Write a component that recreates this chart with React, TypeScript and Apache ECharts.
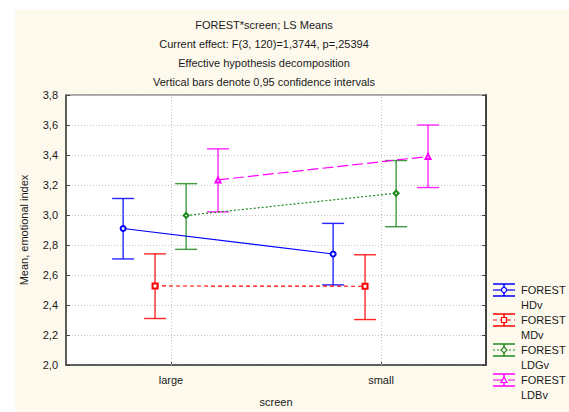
import React, { useEffect, useRef } from 'react';
import * as echarts from 'echarts';

const categories = ['large', 'small'];
const titleLines = [
  'FOREST*screen; LS Means',
  'Current effect: F(3, 120)=1,3744, p=,25394',
  'Effective hypothesis decomposition',
  'Vertical bars denote 0,95 confidence intervals',
];
const seriesNames = ['FOREST\nHDv', 'FOREST\nMDv', 'FOREST\nLDGv', 'FOREST\nLDBv'];

const hdvMean = [2.91, 2.74];
const hdvLow = [2.707, 2.534];
const hdvHigh = [3.11, 2.944];

const mdvMean = [2.527, 2.525];
const mdvLow = [2.31, 2.303];
const mdvHigh = [2.741, 2.735];

const ldgvMean = [2.997, 3.145];
const ldgvLow = [2.771, 2.922];
const ldgvHigh = [3.209, 3.363];

const ldbvMean = [3.234, 3.39];
const ldbvLow = [3.021, 3.183];
const ldbvHigh = [3.441, 3.6];

const yMin = 2.0;
const yMax = 3.8;
const yStep = 0.2;

// layout / style
const offsets = [-0.228, -0.076, 0.072, 0.224];
const colors = ['#0000ff', '#ff0000', '#1f8a1f', '#ff00ff'];
const dashes: any[] = ['solid', [4, 3], [2, 2], [11, 4]];
const symbols = ['emptyCircle', 'emptyRect', 'emptyDiamond', 'emptyTriangle'];
const FONT = '"Liberation Sans", Arial, sans-serif';

const groups = [
  { mean: hdvMean, low: hdvLow, high: hdvHigh },
  { mean: mdvMean, low: mdvLow, high: mdvHigh },
  { mean: ldgvMean, low: ldgvLow, high: ldgvHigh },
  { mean: ldbvMean, low: ldbvLow, high: ldbvHigh },
];

function markerGraphic(i: number, cx: number, cy: number) {
  const style = { fill: '#fff', stroke: colors[i], lineWidth: 1.2 };
  if (i === 0) return { type: 'circle', shape: { cx, cy, r: 2.5 }, style, z: 20 };
  if (i === 1) return { type: 'rect', shape: { x: cx - 2.5, y: cy - 2.5, width: 5, height: 5 }, style, z: 20 };
  if (i === 2)
    return {
      type: 'polygon',
      shape: { points: [[cx, cy - 3], [cx + 3, cy], [cx, cy + 3], [cx - 3, cy]] },
      style,
      z: 20,
    };
  return {
    type: 'polygon',
    shape: { points: [[cx, cy - 3], [cx + 3, cy + 2.5], [cx - 3, cy + 2.5]] },
    style,
    z: 20,
  };
}

export default function App() {
  const ref = useRef<HTMLDivElement>(null);

  useEffect(() => {
    if (!ref.current) return;
    const chart = echarts.init(ref.current, undefined, { renderer: 'svg' });

    const series: any[] = [];
    groups.forEach((g, i) => {
      const line: any = {
        type: 'line',
        name: seriesNames[i],
        xAxisIndex: 1,
        yAxisIndex: 0,
        data: categories.map((_, c) => [c + offsets[i], g.mean[c]]),
        symbol: symbols[i],
        symbolSize: 5,
        itemStyle: { color: colors[i], borderColor: colors[i], borderWidth: 1.2 },
        lineStyle: { color: colors[i], width: 1.2, type: dashes[i] },
        z: 4,
      };
      if (i === 0) {
        line.markLine = {
          silent: true,
          symbol: ['none', 'none'],
          label: { show: false },
          lineStyle: { color: '#c4c4c4', type: [1, 2], width: 1 },
          data: categories.map((_, c) => ({ xAxis: c })),
          z: 1,
        };
      }
      series.push(line);
      series.push({
        type: 'custom',
        xAxisIndex: 1,
        yAxisIndex: 0,
        z: 3,
        data: categories.map((_, c) => [c + offsets[i], g.low[c], g.high[c]]),
        encode: { x: 0, y: [1, 2] },
        renderItem: (params: any, api: any) => {
          const x = api.value(0);
          const lo = api.coord([x, api.value(1)]);
          const hi = api.coord([x, api.value(2)]);
          const hw = 11;
          const st = { stroke: colors[i], lineWidth: 1.4, opacity: 0.85 };
          return {
            type: 'group',
            children: [
              { type: 'line', shape: { x1: lo[0], y1: lo[1], x2: hi[0], y2: hi[1] }, style: st },
              { type: 'line', shape: { x1: lo[0] - hw, y1: lo[1], x2: lo[0] + hw, y2: lo[1] }, style: st },
              { type: 'line', shape: { x1: hi[0] - hw, y1: hi[1], x2: hi[0] + hw, y2: hi[1] }, style: st },
            ],
          };
        },
      });
    });

    const graphics: any[] = [];
    titleLines.forEach((t, k) => {
      graphics.push({
        type: 'text',
        x: 264,
        y: 25 + k * 19,
        style: {
          text: t,
          font: `11px ${FONT}`,
          fill: '#1a1a1a',
          align: 'center',
          textAlign: 'center',
          verticalAlign: 'middle',
          textVerticalAlign: 'middle',
        },
      });
    });
    groups.forEach((_, i) => {
      const cy = 290 + i * 30;
      const x0 = 493;
      const x1 = 515;
      const cx = 504;
      const st = { stroke: colors[i], lineWidth: 1.5 };
      graphics.push({ type: 'line', shape: { x1: x0, y1: cy - 6, x2: x1, y2: cy - 6 }, style: st });
      graphics.push({ type: 'line', shape: { x1: x0, y1: cy + 6, x2: x1, y2: cy + 6 }, style: st });
      graphics.push({ type: 'line', shape: { x1: cx, y1: cy - 6, x2: cx, y2: cy + 6 }, style: st });
      graphics.push({
        type: 'line',
        shape: { x1: x0, y1: cy, x2: x1, y2: cy },
        style: { stroke: colors[i], lineWidth: 1.2, lineDash: dashes[i] === 'solid' ? null : dashes[i] },
      });
      graphics.push(markerGraphic(i, cx, cy));
      const [l1, l2] = seriesNames[i].split('\n');
      graphics.push({
        type: 'text',
        x: 521,
        y: cy,
        style: { text: l1, font: `11px ${FONT}`, fill: '#1a1a1a', verticalAlign: 'middle', textVerticalAlign: 'middle' },
      });
      graphics.push({
        type: 'text',
        x: 521,
        y: cy + 15,
        style: { text: l2, font: `11px ${FONT}`, fill: '#1a1a1a', verticalAlign: 'middle', textVerticalAlign: 'middle' },
      });
    });

    const fmt = (v: number) => v.toFixed(1).replace('.', ',');

    chart.setOption({
      animation: false,
      textStyle: { fontFamily: FONT },
      grid: {
        left: 66,
        top: 95,
        width: 420,
        height: 281,
        show: true,
        backgroundColor: '#ffffff',
        borderColor: '#555',
        borderWidth: 1,
      },
      xAxis: [
        {
          type: 'category',
          data: categories,
          boundaryGap: true,
          position: 'bottom',
          axisLine: { show: true, onZero: false, lineStyle: { color: '#444', width: 1.5 } },
          axisTick: { show: true, inside: true, alignWithLabel: true, length: 4, lineStyle: { color: '#444' } },
          axisLabel: { color: '#1a1a1a', fontSize: 11, margin: 9 },
          splitLine: { show: false },
          name: 'screen',
          nameLocation: 'middle',
          nameGap: 31,
          nameTextStyle: { color: '#1a1a1a', fontSize: 11 },
        },
        {
          type: 'value',
          min: -0.5,
          max: 1.5,
          show: false,
          position: 'top',
          axisLine: { show: false, onZero: false },
          splitLine: { show: false },
        },
      ],
      yAxis: [
        {
          type: 'value',
          min: yMin,
          max: yMax,
          interval: yStep,
          position: 'left',
          axisLine: { show: true, onZero: false, lineStyle: { color: '#444', width: 1.5 } },
          axisTick: { show: true, inside: true, length: 4, lineStyle: { color: '#444' } },
          axisLabel: { color: '#1a1a1a', fontSize: 11, margin: 8, formatter: fmt },
          splitLine: { show: true, lineStyle: { color: '#c4c4c4', type: [1, 2], width: 1 } },
          name: 'Mean, emotional index',
          nameLocation: 'middle',
          nameGap: 37,
          nameTextStyle: { color: '#1a1a1a', fontSize: 11 },
        },
        {
          type: 'value',
          min: yMin,
          max: yMax,
          interval: yStep,
          position: 'right',
          axisLine: { show: true, onZero: false, lineStyle: { color: '#444', width: 2 } },
          axisTick: { show: true, inside: true, length: 4, lineStyle: { color: '#444' } },
          axisLabel: { show: false },
          splitLine: { show: false },
        },
      ],
      series,
      graphic: graphics,
    });

    return () => chart.dispose();
  }, []);

  return (
    <div style={{ position: 'fixed', left: 0, top: 0, width: 569, height: 412, background: '#ffffff' }}>
      <div style={{ position: 'absolute', left: 15, top: 10, right: 0, bottom: 0, background: '#fef9ed' }} />
      <div ref={ref} style={{ position: 'absolute', left: 0, top: 0, width: 569, height: 412 }} />
    </div>
  );
}
